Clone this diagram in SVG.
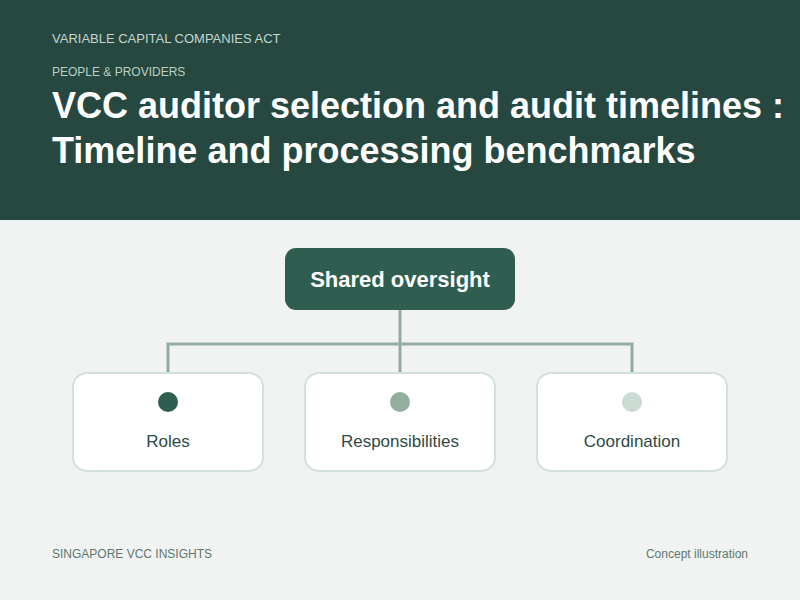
<svg xmlns="http://www.w3.org/2000/svg" width="800" height="600" viewBox="0 0 800 600">
<style>
.sans{font-family:"Liberation Sans",Arial,sans-serif}
.kicker{fill:#c3d6cd;font-size:13px}
.kicker2{fill:#b9cfc5;font-size:12px}
.title{fill:#ffffff;font-size:36px;font-weight:bold}
.foot{fill:#5f776e;font-size:12px}
.child{fill:#ffffff;stroke:#d3dfda;stroke-width:2}
.clabel{fill:#2e4a43;font-size:17px;text-anchor:middle}
.conn{fill:none;stroke:#94ada1;stroke-width:3}
</style>
<rect x="0" y="0" width="800" height="600" fill="#f0f3f2"/>
<rect x="0" y="0" width="800" height="220" fill="#264840"/>
<text class="sans kicker" x="52" y="43">VARIABLE CAPITAL COMPANIES ACT</text>
<text class="sans kicker2" x="52" y="76">PEOPLE &amp; PROVIDERS</text>
<text class="sans title" x="52" y="118">VCC auditor selection and audit timelines :</text>
<text class="sans title" x="52" y="163">Timeline and processing benchmarks</text>
<g id="connectors">
<path class="conn" d="M400 310 V372"/>
<path class="conn" d="M168 372 V344 H632 V372"/>
</g>
<g id="shared-oversight">
<rect x="285" y="248" width="230" height="62" rx="11" fill="#2f5e50"/>
<text class="sans" x="400" y="287" fill="#ffffff" font-size="22" font-weight="bold" text-anchor="middle">Shared oversight</text>
</g>
<g id="roles">
<rect class="child" x="73" y="373" width="190" height="98" rx="14"/>
<circle cx="168" cy="402" r="10" fill="#2f5e50"/>
<text class="sans clabel" x="168" y="447">Roles</text>
</g>
<g id="responsibilities">
<rect class="child" x="305" y="373" width="190" height="98" rx="14"/>
<circle cx="400" cy="402" r="10" fill="#93ae9f"/>
<text class="sans clabel" x="400" y="447">Responsibilities</text>
</g>
<g id="coordination">
<rect class="child" x="537" y="373" width="190" height="98" rx="14"/>
<circle cx="632" cy="402" r="10" fill="#c9dbd2"/>
<text class="sans clabel" x="632" y="447">Coordination</text>
</g>
<text class="sans foot" x="52" y="558">SINGAPORE VCC INSIGHTS</text>
<text class="sans foot" x="748" y="558" text-anchor="end">Concept illustration</text>
</svg>
